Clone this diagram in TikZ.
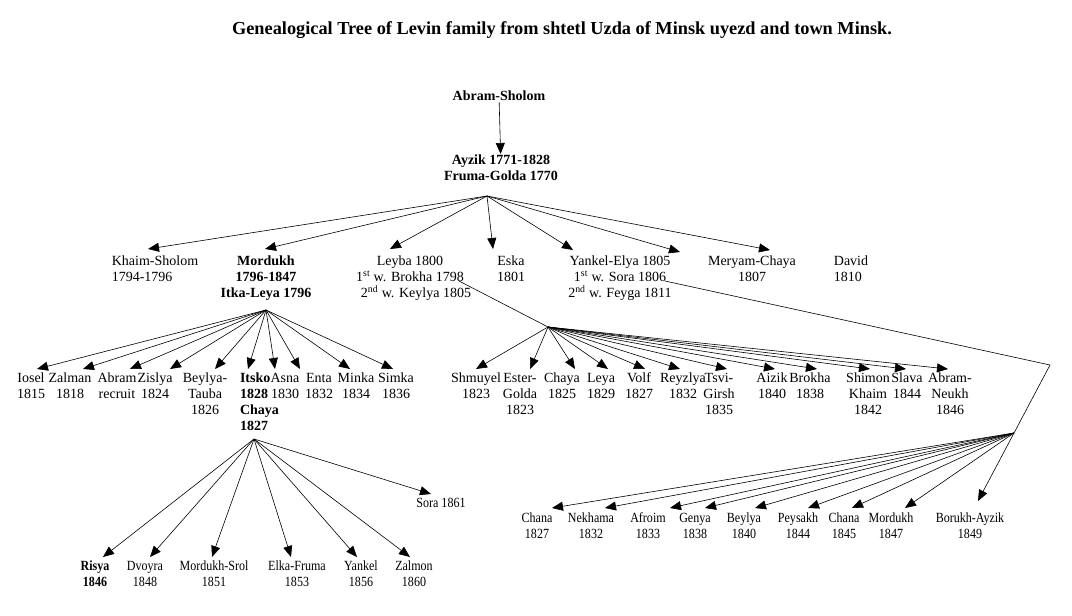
\documentclass[tikz,border=0pt]{standalone}
\usepackage{fontspec}
\setmainfont{Liberation Serif}
\newfontfamily\condfont[FakeStretch=0.86]{Liberation Serif}
\usetikzlibrary{arrows.meta}
\tikzset{
  tn/.style={inner sep=0pt,outer sep=1pt,align=center,font=\fontsize{14}{16}\selectfont,anchor=north},
  tb/.style={tn,font=\fontsize{14}{16}\selectfont\bfseries},
  tc/.style={tn,font=\fontsize{14}{16}\selectfont\condfont},
  ar/.style={-{Triangle[length=11pt,width=9pt]},line width=0.6pt},
  ln/.style={line width=0.6pt}
}
\begin{document}
\begin{tikzpicture}[x=1pt,y=-1pt]
\useasboundingbox (0,0) rectangle (1072,616);
\node[font=\fontsize{18.3}{20}\selectfont\bfseries,inner sep=0pt] (title) at (562,30) {Genealogical Tree of Levin family from shtetl Uzda of Minsk uyezd and town Minsk.};
\node[tb] (as) at (499,90) {Abram-Sholom};
\node[tb] (ay) at (501,154) {Ayzik 1771-1828\\Fruma-Golda 1770};
\draw[ar] (as) -- (ay);
\coordinate (f0) at (487,196);
% generation 2
\node[tn,align=left] (ks) at (155,255) {Khaim-Sholom\\1794-1796};
\node[tb] (mo) at (266,255) {Mordukh\\1796-1847\\Itka-Leya 1796};
\node[tn] (le) at (410,255) {Leyba 1800\\1\textsuperscript{st} w. Brokha 1798\\\hspace*{12pt}2\textsuperscript{nd} w. Keylya 1805};
\node[tn] (es) at (511,255) {Eska\\1801};
\node[tn] (ye) at (620,255) {Yankel-Elya 1805\\1\textsuperscript{st} w. Sora 1806\\2\textsuperscript{nd} w. Feyga 1811};
\node[tn] (me) at (752,255) {Meryam-Chaya\\1807};
\node[tn,align=left] (da) at (851,255) {David\\1810};
\draw[ar] (f0) -- (148,249);
\draw[ar] (f0) -- (265,249);
\draw[ar] (f0) -- (390,249);
\draw[ar] (f0) -- (493,249);
\draw[ar] (f0) -- (573,250);
\draw[ar] (f0) -- (680,252);
\draw[ar] (f0) -- (770,250);
% Mordukh's children
\coordinate (f1) at (266,310);
\foreach \n/\x/\t/\tx in {io/31/Iosel\\1815/37, za/70/Zalman\\1818/83, ab/117/Abram\\recruit/130, zi/155/Zislya\\1824/170, be/205/Beylya-\\Tauba\\1826/215, as2/285/Asna\\1830/275, en/319/Enta\\1832/300, mi/356/Minka\\1834/350, si/396/Simka\\1836/393}{
  \node[tn] (\n) at (\x,372) {\t};
  \draw[ar] (f1) -- (\tx,369);
}
\node[tb,anchor=north west,align=left] (it) at (239,372) {Itsko\\1828\\Chaya\\1827};
\draw[ar] (f1) -- (248,369);
% Leyba's children
\coordinate (f2) at (548,327);
\draw[ln] (459,281) -- (f2);
\foreach \n/\x/\t/\tx in {sh/476/Shmuyel\\1823/476, eg/520/Ester-\\Golda\\1823/530, ch/562/Chaya\\1825/575, ly/601/Leya\\1829/608, vo/639/Volf\\1827/645, re/683/Reyzlya\\1832/680, ts/719/Tsvi-\\Girsh\\1835/727, ai/772/Aizik\\1840/775, br/810/Brokha\\1838/817, sk/868/Shimon\\Khaim\\1842/870, sl/907/Slava\\1844/906, an/950/Abram-\\Neukh\\1846/948}{
  \node[tn] (\n) at (\x,372) {\t};
  \draw[ar] (f2) -- (\tx,369);
}
% Itsko's children
\coordinate (f4) at (254,439);
\foreach \n/\x/\t/\tx in {ri/95/\textbf{Risya}\\\textbf{1846}/103, dv/145/Dvoyra\\1848/150, ms/214/Mordukh-Srol\\1851/212, ef/297/Elka-Fruma\\1853/291, ya/361/Yankel\\1856/357, zm/414/Zalmon\\1860/410}{
  \node[tc] (\n) at (\x,560) {\t};
  \draw[ar] (f4) -- (\tx,557);
}
\node[tc] (so) at (441,497) {Sora 1861};
\draw[ar] (f4) -- (431,494);
% Yankel-Elya's children
\coordinate (cr) at (1050,365);
\coordinate (f3) at (1014,433);
\node[tc] (bo) at (970,512) {Borukh-Ayzik\\1849};
\draw[ar] (665,281) -- (cr) -- (978,501);
\foreach \n/\x/\t/\tx in {c1/537/Chana\\1827/552, nk/591/Nekhama\\1832/605, af/648/Afroim\\1833/670, ge/695/Genya\\1838/705, bl/744/Beylya\\1840/755, pe/798/Peysakh\\1844/808, c2/844/Chana\\1845/852, mk/891/Mordukh\\1847/905}{
  \node[tc] (\n) at (\x,512) {\t};
  \draw[ar] (f3) -- (\tx,508);
}
\end{tikzpicture}
\end{document}
